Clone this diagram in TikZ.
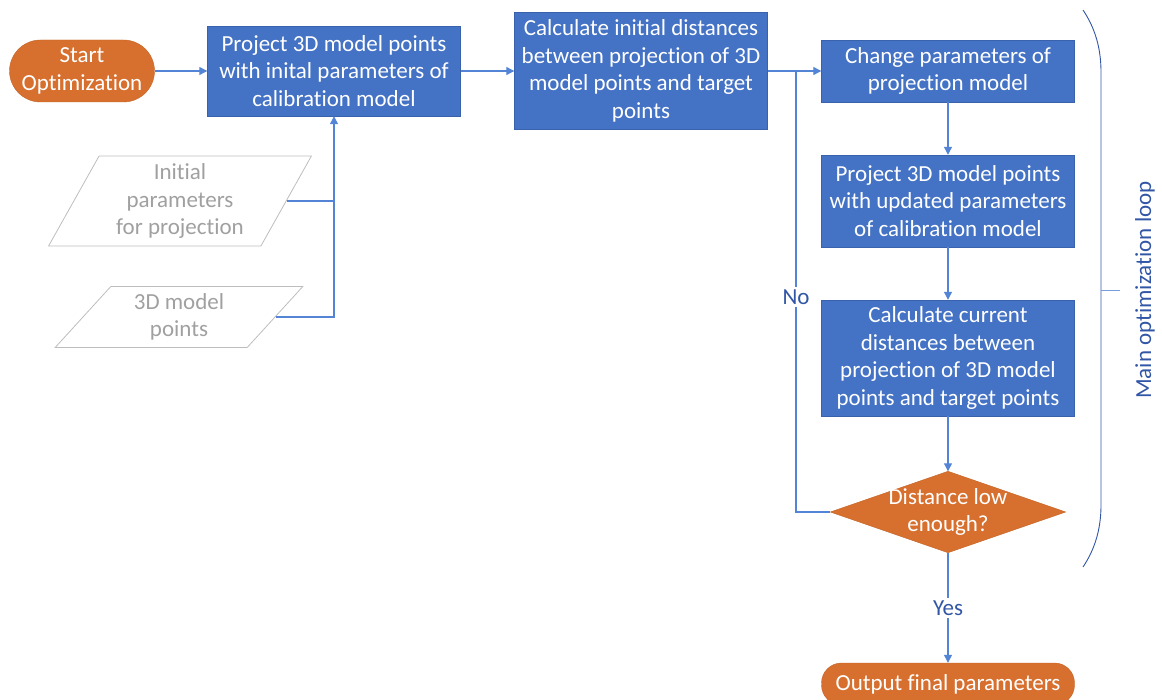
\documentclass[tikz,border=0pt]{standalone}
\usepackage{fontspec}
\setmainfont{Carlito}[Ligatures=NoCommon]
\usetikzlibrary{shapes.geometric,arrows.meta}
\definecolor{boxblue}{RGB}{68,114,196}
\definecolor{boxedge}{RGB}{58,98,172}
\definecolor{termorange}{RGB}{215,112,46}
\definecolor{termedge}{RGB}{196,98,36}
\definecolor{flowline}{RGB}{84,132,214}
\definecolor{labelblue}{RGB}{50,86,166}
\definecolor{inputgray}{RGB}{160,160,160}

\tikzset{
	txt/.style={font=\fontsize{23}{27.5}\selectfont, align=center, inner sep=0pt},
	procbox/.style={txt, draw=boxedge, fill=boxblue, text=white, minimum width=253},
	terminal/.style={txt, draw=termedge, fill=termorange, text=white, rounded corners=20},
	inputbox/.style={txt, trapezium, trapezium stretches=true, draw=inputgray!70, line width=0.8, text=inputgray},
	decision/.style={txt, text=white, minimum width=235, minimum height=81},
	flow/.style={draw=flowline, line width=1.2, -{Triangle[length=8,width=8]}},
	flowplain/.style={draw=flowline, line width=1.2},
}

\begin{document}
\begin{tikzpicture}[x=1pt,y=-1pt]
	\useasboundingbox (0,0) rectangle (1162,700);
	% left column
	\node [terminal, minimum width=145, minimum height=62, rounded corners=31] (start) at (82,71) {Start\\Optimization};
	\node [procbox, minimum height=90] (projinit) at (334,71) {Project 3D model points\\with inital parameters of\\calibration model};
	\node [inputbox, trapezium left angle=62, trapezium right angle=118, minimum width=263, minimum height=90] (initpar) at (180,201) {Initial\\parameters\\for projection};
	\node [inputbox, trapezium left angle=52, trapezium right angle=128, minimum width=248, minimum height=61] (modelpts) at (179,317) {3D model\\points};
	\node [procbox, minimum height=117] (initdist) at (641,71) {Calculate initial distances\\between projection of 3D\\model points and target\\points};
	% loop column
	\node [procbox, minimum height=62] (change) at (948,71) {Change parameters of\\projection model};
	\node [procbox, minimum height=92] (projupd) at (948,201) {Project 3D model points\\with updated parameters\\of calibration model};
	\node [procbox, minimum height=116] (curdist) at (948,358) {Calculate current\\distances between\\projection of 3D model\\points and target points};
	\node [decision] (lowenough) at (948,512) {};
	\fill [termorange, draw=termedge] (lowenough.west) -- (lowenough.north) -- (lowenough.east) -- (lowenough.south) -- cycle;
	\node [txt, text=white] (lowtxt) at (lowenough) {Distance low\\enough?};
	\node [terminal, minimum width=253, minimum height=42] (output) at (948,684) {Output final parameters};
	\coordinate (loopjoin) at (796,71);

	% connectors
	\draw [flow] (start) -- (projinit);
	\draw [flowplain] (modelpts.east) -| (initpar.east -| projinit.south);
	\draw [flow] (initpar.east) -| (projinit.south);
	\draw [flow] (projinit) -- (initdist);
	\draw [flow] (initdist) -- (change);
	\draw [flow] (change) -- (projupd);
	\draw [flow] (projupd) -- (curdist);
	\draw [flow] (curdist) -- (lowenough.north);
	\draw [flowplain] (lowenough.west) -| (loopjoin);
	\node [txt, fill=white, text=labelblue, inner sep=3] (nolbl) at (796,297) {No};
	\draw [flow] (lowenough.south) -- (output);
	\node [txt, fill=white, text=labelblue, inner sep=3] (yeslbl) at (948,608) {Yes};

	% loop bracket
	\draw [labelblue, line width=0.9] (1083,10) .. controls (1095,28) and (1101,48) .. (1101,72) -- (1101,505) .. controls (1101,529) and (1095,549) .. (1083,567);
	\draw [flowline!80, line width=0.9] (1101,290) -- (1120,290);
	\node [txt, text=labelblue, rotate=90] (looplbl) at (1145,290) {Main optimization loop};
\end{tikzpicture}
\end{document}
